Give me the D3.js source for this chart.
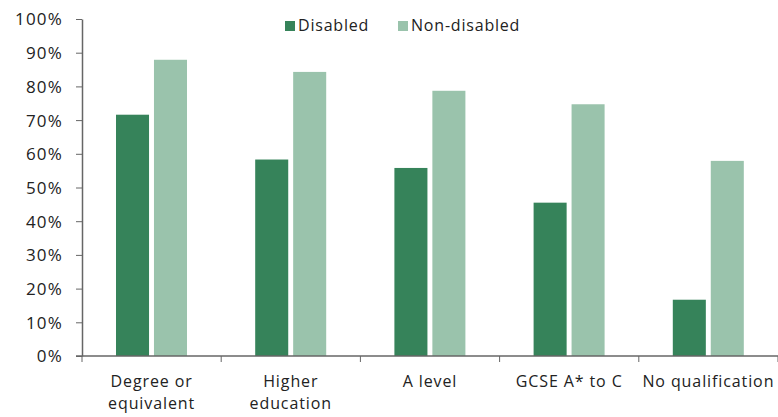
<!DOCTYPE html>
<html>
<head>
<meta charset="utf-8">
<script src="https://cdn.jsdelivr.net/npm/d3@7"></script>
<style>
  body { margin: 0; background: #fff; }
  text { font-family: "Open Sans", sans-serif; fill: #222; }
</style>
</head>
<body>
<div id="chart"></div>
<script>
// chart data
const categories = [["Degree or", "equivalent"], ["Higher", "education"], ["A level"], ["GCSE A* to C"], ["No qualification"]];
const seriesNames = ["Disabled", "Non-disabled"];
const disabled = [71.6, 58.3, 55.8, 45.5, 16.7];
const nonDisabled = [87.9, 84.3, 78.7, 74.7, 57.9];
const yTicks = [0, 10, 20, 30, 40, 50, 60, 70, 80, 90, 100];

const colors = ["#36835a", "#9ac3ac"];
const width = 778, height = 417;
const margin = { top: 19, right: 0, bottom: 60, left: 82 };

const svg = d3.select("#chart").append("svg")
    .attr("width", width)
    .attr("height", height);

const x = d3.scaleBand()
    .domain(categories.map((d, i) => i))
    .range([margin.left, width - margin.right]);

const y = d3.scaleLinear()
    .domain([0, 100])
    .range([height - margin.bottom - 1, margin.top]);

const x1 = d3.scaleBand()
    .domain([0, 1])
    .range([34, 105])
    .paddingInner(0.13);

// bars
const rows = categories.map((c, i) => [disabled[i], nonDisabled[i]]);
const groups = svg.append("g").selectAll("g")
    .data(rows)
    .enter().append("g")
    .attr("transform", (d, i) => `translate(${x(i)},0)`);

groups.selectAll("rect")
    .data(d => d)
    .enter().append("rect")
    .attr("x", (d, j) => x1(j))
    .attr("width", x1.bandwidth())
    .attr("y", d => y(d))
    .attr("height", d => y(0) - y(d))
    .attr("fill", (d, j) => colors[j]);

// y axis
const yAxis = svg.append("g")
    .attr("transform", `translate(${margin.left},0)`)
    .call(d3.axisLeft(y).tickValues(yTicks).tickFormat(d => d + "%").tickSize(6).tickSizeOuter(0));
yAxis.select(".domain").attr("stroke", "#666").attr("stroke-width", 1.5);
yAxis.selectAll(".tick line").attr("stroke", "#666");
yAxis.selectAll(".tick text")
    .attr("x", -19)
    .attr("dy", "0.35em")
    .style("font-size", "17px")
    .style("letter-spacing", "1.2px")
    .style("font-family", "'Open Sans', sans-serif")
    .attr("fill", "#222");

// x axis
const xAxisG = svg.append("g")
    .attr("transform", `translate(0,${y(0)})`);
xAxisG.append("line")
    .attr("x1", margin.left - 6).attr("x2", width)
    .attr("stroke", "#666").attr("stroke-width", 1.5);
const bounds = d3.range(categories.length + 1).map(i => margin.left + i * x.step());
xAxisG.selectAll(".xt")
    .data(bounds)
    .enter().append("line")
    .attr("x1", d => d).attr("x2", d => d)
    .attr("y1", 0).attr("y2", 6)
    .attr("stroke", "#666");

// category labels
const labels = svg.append("g").selectAll("text")
    .data(categories)
    .enter().append("text")
    .attr("text-anchor", "middle")
    .attr("x", (d, i) => x(i) + x.bandwidth() / 2)
    .attr("y", 387)
    .style("font-size", "16px")
    .style("letter-spacing", "0.9px");
labels.selectAll("tspan")
    .data(d => d)
    .enter().append("tspan")
    .attr("x", function() { return d3.select(this.parentNode).attr("x"); })
    .attr("dy", (d, j) => j === 0 ? 0 : 22)
    .text(d => d);

// legend
const legendX = [285, 398];
const legend = svg.append("g").selectAll("g")
    .data(seriesNames)
    .enter().append("g")
    .attr("transform", (d, i) => `translate(${legendX[i]},21)`);
legend.append("rect")
    .attr("width", 10).attr("height", 10)
    .attr("fill", (d, i) => colors[i]);
legend.append("text")
    .attr("x", 13).attr("y", 10)
    .style("font-size", "16px")
    .style("letter-spacing", "0.8px")
    .text(d => d);
</script>
</body>
</html>
